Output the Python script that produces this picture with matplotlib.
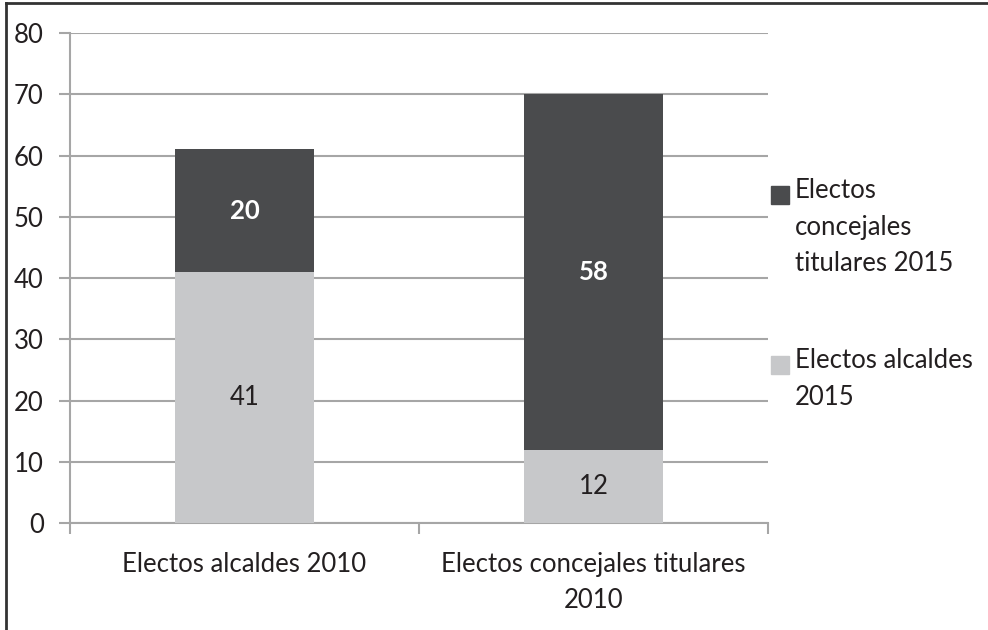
import matplotlib.pyplot as plt
from matplotlib.lines import Line2D
from matplotlib.patches import Rectangle

categories = ['Electos alcaldes 2010', 'Electos concejales titulares\n2010']
alcaldes_2015 = [41, 12]
concejales_2015 = [20, 58]
legend_labels = ['Electos\nconcejales\ntitulares 2015', 'Electos alcaldes\n2015']
yticks = [0, 10, 20, 30, 40, 50, 60, 70, 80]

dark = '#4a4b4d'
light = '#c7c8ca'
grid = '#a6a6a6'
text_col = '#231f20'
fs = 18.5

plt.rcParams['font.family'] = ['Lato', 'DejaVu Sans']

fig = plt.figure(figsize=(9.88, 6.3), dpi=100)
ax = fig.add_axes([0.0709, 0.1698, 0.7064, 0.7778])

x = [0.5, 1.5]
ax.bar(x, alcaldes_2015, width=0.4, color=light, zorder=3)
ax.bar(x, concejales_2015, width=0.4, bottom=alcaldes_2015, color=dark, zorder=3)

for i in range(len(x)):
    ax.text(x[i], alcaldes_2015[i] / 2, str(alcaldes_2015[i]), ha='center', va='center',
            fontsize=fs, color=text_col, zorder=4)
    ax.text(x[i], alcaldes_2015[i] + concejales_2015[i] / 2, str(concejales_2015[i]),
            ha='center', va='center', fontsize=fs, fontweight='bold', color='white', zorder=4)

ax.set_xlim(0, 2)
ax.set_ylim(0, 80)
ax.set_yticks(yticks)
ax.set_yticklabels([str(t) for t in yticks], fontsize=fs, color=text_col)
ax.yaxis.grid(True, color=grid, linewidth=1.5, zorder=0)
ax.set_xticks([0, 1, 2])
ax.set_xticklabels([])
ax.set_xticks(x, minor=True)
ax.set_xticklabels(categories, minor=True, fontsize=fs, color=text_col, linespacing=1.55)
ax.tick_params(axis='x', which='minor', length=0, pad=21)
ax.tick_params(axis='x', which='major', length=8, color=grid, width=1.5)
ax.tick_params(axis='y', length=8, color=grid, width=1.5, pad=11)

for s in ['top', 'right']:
    ax.spines[s].set_visible(False)
ax.spines['left'].set_color(grid)
ax.spines['bottom'].set_color(grid)
ax.spines['left'].set_linewidth(1.5)
ax.spines['bottom'].set_linewidth(1.5)

# legend, handles aligned with the first line of each label
W, H = 988, 630
colors = [dark, light]
tops = [178, 348]
for lab, c, t in zip(legend_labels, colors, tops):
    fig.patches.append(Rectangle((771 / W, 1 - (t + 26) / H), 18 / W, 18 / H,
                                 transform=fig.transFigure, color=c))
    fig.text(795 / W, 1 - t / H, lab, fontsize=fs, color=text_col, va='top', ha='left',
             linespacing=1.58)

fig.add_artist(Line2D([0.0065, 0.0065], [0, 0.995], color='#333333', linewidth=2))
fig.add_artist(Line2D([0.0065, 1.0], [0.995, 0.995], color='#333333', linewidth=2))

fig.savefig('out.png', dpi=100)
